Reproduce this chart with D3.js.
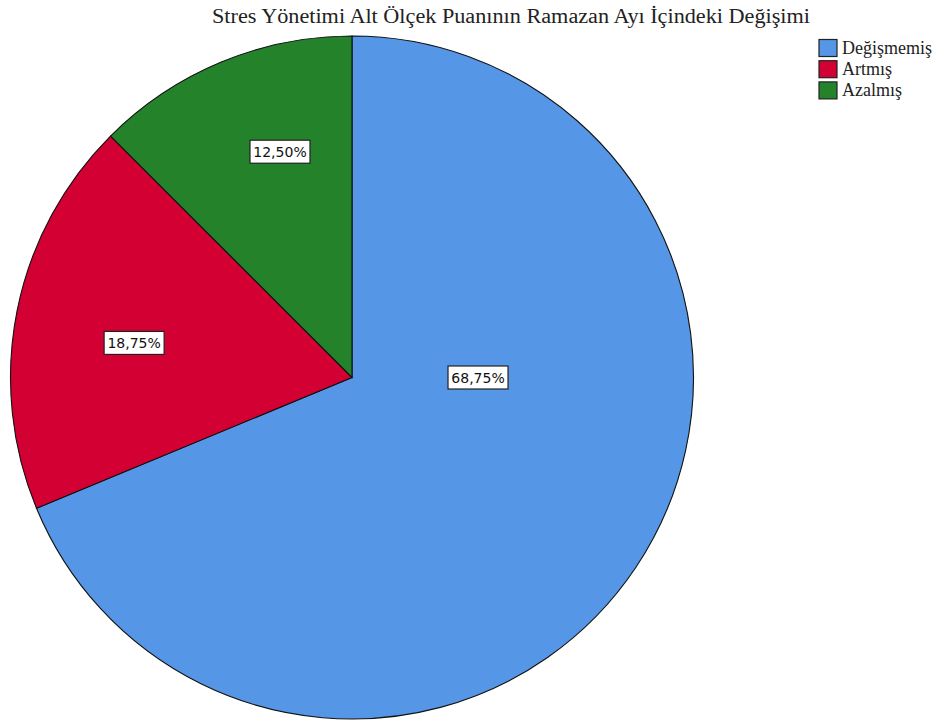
<!DOCTYPE html>
<html><head><meta charset="utf-8">
<script src="https://cdn.jsdelivr.net/npm/d3@7"></script>
<style>body{margin:0;background:#fff}svg{display:block}</style>
</head><body>
<svg id="c" width="951" height="720"></svg>
<script>
const title = "Stres Yönetimi Alt Ölçek Puanının Ramazan Ayı İçindeki Değişimi";
const categories = ["Değişmemiş", "Artmış", "Azalmış"];
const values = [68.75, 18.75, 12.50];
const labels = ["68,75%", "18,75%", "12,50%"];
const colors = ["#5596E6", "#D20033", "#24822A"];

const svg = d3.select("#c");
const cx = 352, cy = 377.5, R = 341.5;

svg.append("text").attr("x", 511).attr("y", 23).attr("text-anchor", "middle")
  .attr("font-family", "Liberation Serif, Times New Roman, serif").attr("font-size", 20)
  .attr("textLength", 598).attr("lengthAdjust", "spacingAndGlyphs")
  .attr("fill", "#222").text(title);

const pie = d3.pie().sort(null).value(d => d)(values);
const arc = d3.arc().innerRadius(0).outerRadius(R);
const g = svg.append("g").attr("transform", `translate(${cx},${cy})`);
g.selectAll("path").data(pie).join("path")
  .attr("d", arc).attr("fill", (d, i) => colors[i])
  .attr("stroke", "#111").attr("stroke-width", 1.1);

// SPSS-like label placement: angle offset from slice middle and radius fraction
const place = [{da: 0, r: 0.369, fixed: Math.PI / 2}, {da: -0.039, r: 0.646}, {da: 0.084, r: 0.694}];
pie.forEach((d, i) => {
  const pl = place[i];
  const a = pl.fixed !== undefined ? pl.fixed : (d.startAngle + d.endAngle) / 2 + pl.da;
  const p = [Math.sin(a) * R * pl.r, -Math.cos(a) * R * pl.r];
  const lg = g.append("g").attr("transform", `translate(${p[0]},${p[1]})`);
  const t = lg.append("text").attr("text-anchor", "middle").attr("dy", "0.36em")
    .attr("font-family", "DejaVu Sans, Verdana, sans-serif").attr("font-size", 14)
    .attr("fill", "#111").text(labels[i]);
  const bb = t.node().getBBox();
  lg.insert("rect", "text").attr("x", -30).attr("y", -11.5)
    .attr("width", 60).attr("height", 23)
    .attr("fill", "#fff").attr("stroke", "#222").attr("stroke-width", 1.2);
});

const leg = svg.append("g").attr("transform", "translate(819,39.5)");
categories.forEach((c, i) => {
  const row = leg.append("g").attr("transform", `translate(0,${i * 21.2})`);
  row.append("rect").attr("width", 18).attr("height", 17)
    .attr("fill", colors[i]).attr("stroke", "#222").attr("stroke-width", 1.2);
  row.append("text").attr("x", 23).attr("y", 14.5)
    .attr("font-family", "Liberation Serif, Times New Roman, serif").attr("font-size", 18)
    .attr("fill", "#222").text(c);
});
</script>
</body></html>
